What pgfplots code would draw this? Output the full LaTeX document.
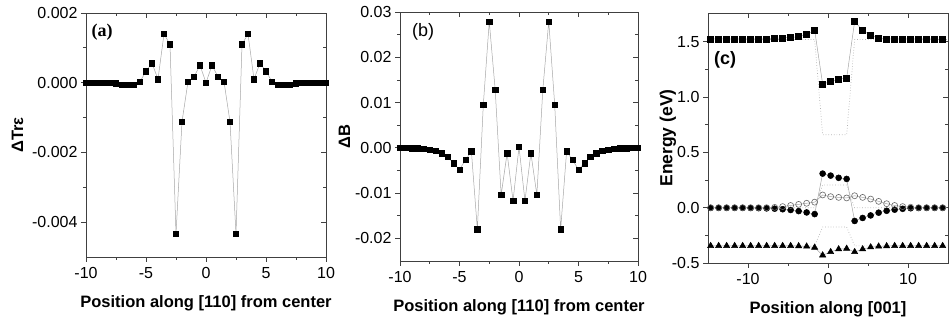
\documentclass[border=0pt]{standalone}
\usepackage{pgfplots}
\pgfplotsset{compat=1.18}
\usepackage{fontspec}
\setmainfont{Liberation Sans}
\newfontfamily\serifb{Liberation Serif}

\pgfplotsset{
  base/.style={scale only axis,
    axis line style={black!75, line width=0.9pt},
    tick style={black!75, line width=0.8pt},
    major tick length=5pt, minor tick length=3pt,
    tick label style={font=\fontsize{16}{16}\selectfont},
    xticklabel style={yshift=-2pt},
    label style={font=\bfseries\fontsize{16.5}{16.5}\selectfont},
    xlabel style={yshift=-10pt},
    /pgf/number format/assume math mode=true,
    scaled ticks=false},
  front/.style={base, xtick pos=bottom, ytick pos=left, tick align=outside},
  back/.style={base, xtick pos=top, ytick pos=right, tick align=inside,
    xticklabels={}, yticklabels={}},
  ser/.style={gray!70, line width=0.5pt, mark=square*, mark size=2.7pt,
    mark options={fill=black, draw=black, solid}},
}

\pgfplotstableread{
x y
-10 0
-9.5 0
-9 0
-8.5 0
-8 0
-7.5 -0.00002
-7 -0.00005
-6.5 -0.00006
-6 -0.00005
-5.5 0.00003
-5 0.00033
-4.5 0.00056
-4 0.0001
-3.5 0.0014
-3 0.0011
-2.5 -0.00434
-2 -0.00112
-1.5 0.00003
-1 0.00017
-0.5 0.0005
0 0.0
0.5 0.0005
1 0.00017
1.5 0.00003
2 -0.00112
2.5 -0.00434
3 0.0011
3.5 0.0014
4 0.0001
4.5 0.00056
5 0.00033
5.5 0.00003
6 -0.00005
6.5 -0.00006
7 -0.00005
7.5 -0.00002
8 0
8.5 0
9 0
9.5 0
10 0
}\dataA

\pgfplotstableread{
x y
-10 0
-9.5 0
-9 -0.0001
-8.5 -0.0001
-8 -0.0002
-7.5 -0.0004
-7 -0.0007
-6.5 -0.0012
-6 -0.002
-5.5 -0.0034
-5 -0.0048
-4.5 -0.0027
-4 -0.0008
-3.5 -0.018
-3 0.0095
-2.5 0.0279
-2 0.0128
-1.5 -0.0104
-1 -0.0012
-0.5 -0.0117
0 0.0002
0.5 -0.0117
1 -0.0012
1.5 -0.0104
2 0.0128
2.5 0.0279
3 0.0095
3.5 -0.018
4 -0.0008
4.5 -0.0027
5 -0.0048
5.5 -0.0034
6 -0.002
6.5 -0.0012
7 -0.0007
7.5 -0.0004
8 -0.0002
8.5 -0.0001
9 -0.0001
9.5 0
10 0
}\dataB

\pgfplotstableread{
x cb hh lh so
-14.67 1.525 -0.002 0.0 -0.345
-13.67 1.525 -0.002 0.0 -0.345
-12.67 1.525 -0.002 0.0 -0.345
-11.67 1.525 -0.002 0.0 -0.345
-10.67 1.525 -0.002 0.0 -0.345
-9.67 1.525 -0.003 0.0 -0.345
-8.67 1.525 -0.004 0.0 -0.345
-7.67 1.527 -0.006 0.0 -0.345
-6.67 1.530 -0.009 0.003 -0.345
-5.67 1.535 -0.014 0.010 -0.345
-4.67 1.538 -0.021 0.020 -0.345
-3.67 1.547 -0.031 0.030 -0.347
-2.67 1.565 -0.043 0.040 -0.350
-1.67 1.605 -0.058 0.050 -0.360
-0.67 1.117 0.308 0.115 -0.430
0.33 1.141 0.290 0.100 -0.400
1.33 1.162 0.270 0.093 -0.375
2.33 1.171 0.260 0.088 -0.370
3.33 1.684 -0.120 0.108 -0.400
4.33 1.602 -0.093 0.093 -0.375
5.33 1.560 -0.070 0.078 -0.357
6.33 1.533 -0.045 0.057 -0.350
7.33 1.527 -0.028 0.036 -0.347
8.33 1.525 -0.018 0.020 -0.345
9.33 1.525 -0.010 0.010 -0.345
10.33 1.525 -0.005 0.004 -0.345
11.33 1.525 -0.003 0.0 -0.345
12.33 1.525 -0.002 0.0 -0.345
13.33 1.525 -0.002 0.0 -0.345
14.33 1.522 -0.002 0.0 -0.345
}\dataC

\pgfplotstableread{
x cb vb so
-15 1.52 0 -0.345
-1.67 1.52 0 -0.345
-0.67 0.66 0.205 -0.175
2.33 0.66 0.205 -0.175
3.33 1.52 0 -0.345
15 1.52 0 -0.345
}\bulkC

\begin{document}
\begin{tikzpicture}[x=1pt,y=1pt]
\useasboundingbox (0,0) rectangle (950,321);

% ---------- (a)
\begin{axis}[back, at={(86pt,64pt)}, anchor=south west, width=240pt, height=244pt,
  xmin=-10, xmax=10, ymin=-0.005, ymax=0.002,
  xtick={-10,-5,0,5,10}, ytick={-0.004,-0.002,0,0.002},
  minor x tick num=1, minor y tick num=1]
\end{axis}
\begin{axis}[front, at={(86pt,64pt)}, anchor=south west, width=240pt, height=244pt,
  xmin=-10, xmax=10, ymin=-0.005, ymax=0.002,
  xtick={-10,-5,0,5,10}, ytick={-0.004,-0.002,0,0.002},
  minor x tick num=1, minor y tick num=1,
  yticklabel style={/pgf/number format/.cd, fixed, fixed zerofill, precision=3},
  xlabel={Position along [110] from center},
  ylabel={ΔTrε}, ylabel style={yshift=2pt}]
\addplot[ser] table[x=x,y=y] {\dataA};
\end{axis}

% ---------- (b)
\begin{axis}[back, at={(400pt,60pt)}, anchor=south west, width=238pt, height=249pt,
  xmin=-10, xmax=10, ymin=-0.025, ymax=0.03,
  xtick={-10,-5,0,5,10}, ytick={-0.02,-0.01,0,0.01,0.02,0.03},
  minor x tick num=1, minor y tick num=1]
\end{axis}
\begin{axis}[front, at={(400pt,60pt)}, anchor=south west, width=238pt, height=249pt,
  xmin=-10, xmax=10, ymin=-0.025, ymax=0.03,
  xtick={-10,-5,0,5,10}, ytick={-0.02,-0.01,0,0.01,0.02,0.03},
  minor x tick num=1, minor y tick num=1,
  yticklabel style={/pgf/number format/.cd, fixed, fixed zerofill, precision=2},
  xlabel={Position along [110] from center},
  ylabel={ΔB}, ylabel style={yshift=-2pt}]
\addplot[ser] table[x=x,y=y] {\dataB};
\end{axis}

% ---------- (c)
\begin{axis}[back, at={(708pt,58pt)}, anchor=south west, width=240pt, height=250pt,
  xmin=-15, xmax=15, ymin=-0.5, ymax=1.76,
  xtick={-10,0,10}, ytick={-0.5,0,0.5,1,1.5},
  minor x tick num=1, minor y tick num=1]
\end{axis}
\begin{axis}[front, at={(708pt,58pt)}, anchor=south west, width=240pt, height=250pt,
  xmin=-15, xmax=15, ymin=-0.5, ymax=1.76,
  xtick={-10,0,10}, ytick={-0.5,0,0.5,1,1.5},
  minor x tick num=1, minor y tick num=1,
  yticklabel style={/pgf/number format/.cd, fixed, fixed zerofill, precision=1},
  xlabel={Position along [001]},
  ylabel={Energy (eV)},
  ylabel style={font=\bfseries\fontsize{17.5}{17.5}\selectfont, yshift=-11pt}]
\addplot[gray!60, dotted, line width=0.7pt] table[x=x,y=cb] {\bulkC};
\addplot[gray!60, dotted, line width=0.7pt] table[x=x,y=vb] {\bulkC};
\addplot[gray!60, dotted, line width=0.7pt] table[x=x,y=so] {\bulkC};
\addplot[gray!70, line width=0.5pt, mark=square*, mark size=3pt, mark options={fill=black,draw=black}] table[x=x,y=cb] {\dataC};
\addplot[gray!70, line width=0.5pt, mark=*, mark size=3pt, mark options={fill=black,draw=black}] table[x=x,y=hh] {\dataC};
\addplot[gray!70, line width=0.5pt, mark=o, mark size=3pt, mark options={fill=white,draw=gray!80!black, line width=0.6pt}] table[x=x,y=lh] {\dataC};
\addplot[gray!70, line width=0.5pt, mark=triangle*, mark size=3.6pt, mark options={fill=black,draw=black}] table[x=x,y=so] {\dataC};
\end{axis}

\node[font=\serifb\bfseries\fontsize{18}{18}\selectfont] at (102pt,289pt) {(a)};
\node[font=\fontsize{18}{18}\selectfont] at (423pt,289pt) {(b)};
\node[font=\bfseries\fontsize{18}{18}\selectfont] at (725pt,261pt) {(c)};
\end{tikzpicture}
\end{document}
